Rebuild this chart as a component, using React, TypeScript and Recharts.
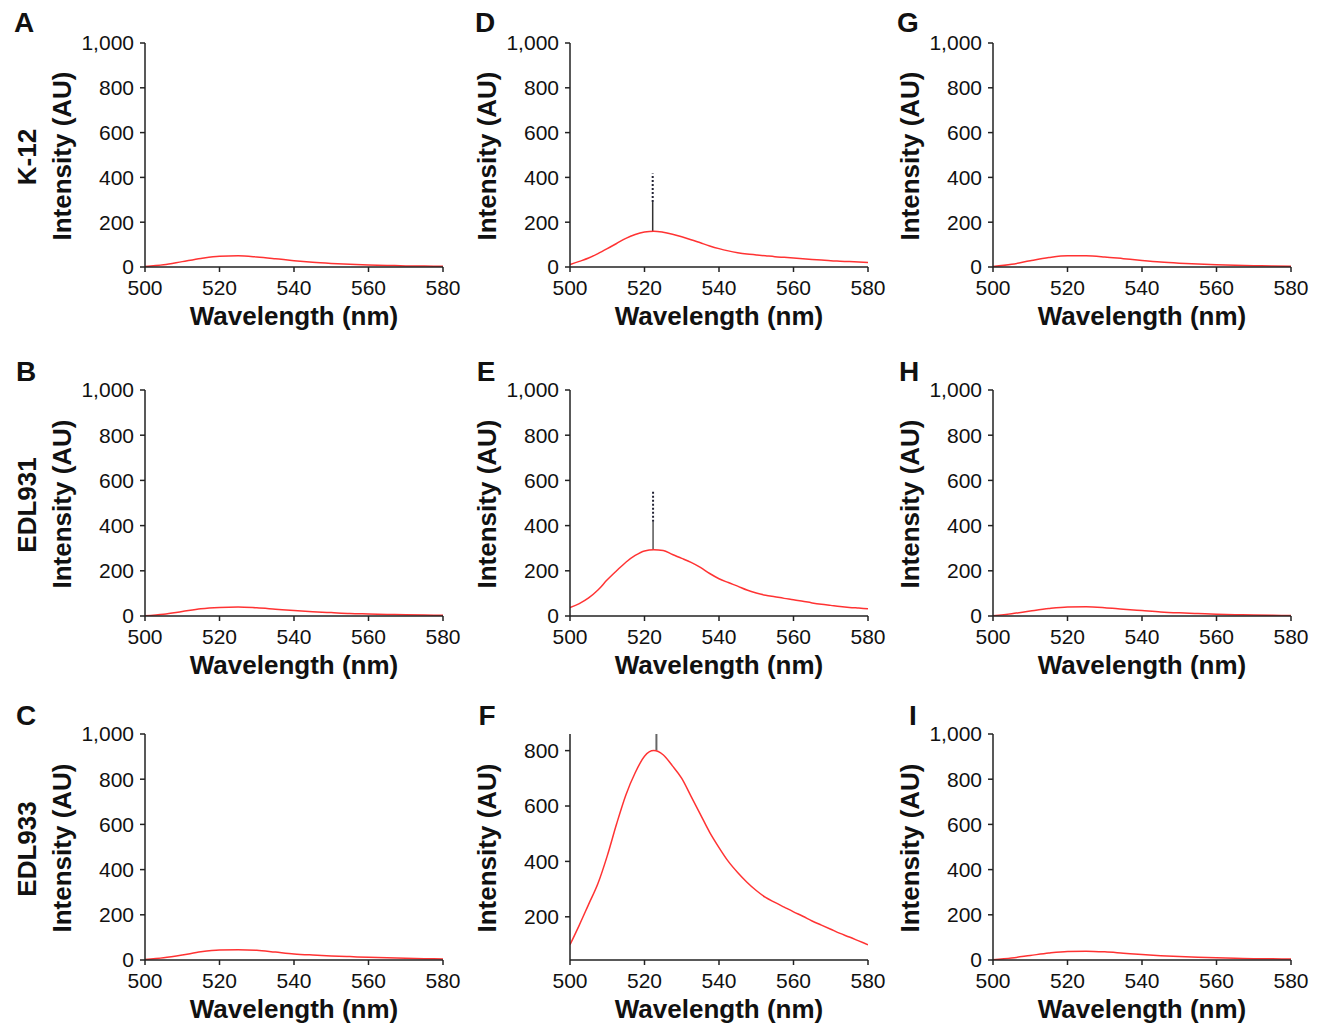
import React from 'react'
import { LineChart, Line, XAxis, YAxis } from 'recharts'

// wavelength grids (nm)
const wavelengths = [500, 505, 510, 515, 520, 525, 530, 535, 540, 545, 550, 555, 560, 565, 570, 575, 580]
const wavelengthsFine = [
  500, 502.5, 505, 507.5, 510, 512.5, 515, 517.5, 520, 522.5, 525, 527.5, 530, 532.5, 535, 537.5, 540,
  542.5, 545, 547.5, 550, 552.5, 555, 557.5, 560, 562.5, 565, 567.5, 570, 572.5, 575, 577.5, 580,
]

// intensities (AU), coarse panels
const intensityA = [2, 10, 24, 38, 48, 50, 45, 37, 28, 21, 16, 12, 9, 7, 5, 4, 3]
const intensityB = [1, 8, 20, 32, 38, 40, 36, 30, 24, 19, 15, 11, 9, 7, 5, 4, 3]
const intensityC = [2, 10, 22, 36, 44, 45, 43, 35, 27, 22, 18, 15, 12, 10, 8, 6, 4]
const intensityG = [2, 12, 28, 42, 50, 50, 45, 37, 29, 22, 17, 13, 10, 8, 6, 4, 3]
const intensityH = [1, 10, 22, 33, 40, 41, 37, 30, 24, 18, 14, 11, 8, 6, 4, 3, 2]
const intensityI = [1, 9, 20, 31, 38, 39, 36, 30, 24, 19, 15, 12, 10, 8, 6, 5, 4]

// intensities (AU), fine panels
const intensityD = [
  11, 25, 40, 60, 82, 105, 128, 145, 156, 160, 155, 146, 135, 122, 108, 94, 82,
  72, 64, 58, 54, 50, 46, 43, 40, 37, 34, 31, 28, 26, 24, 22, 20,
]
const intensityE = [
  37, 55, 80, 115, 160, 200, 238, 268, 288, 293, 290, 272, 255, 237, 215, 188, 165,
  148, 132, 115, 102, 92, 85, 78, 72, 65, 58, 52, 47, 42, 38, 35, 32,
]
const intensityF = [
  99, 170, 245, 320, 420, 535, 640, 720, 780, 800, 785, 745, 700, 635, 570, 505, 450,
  400, 360, 325, 295, 270, 252, 235, 218, 202, 185, 170, 155, 140, 127, 113, 99,
]

// vertical artefact spikes at the peak: [wavelength, from, to]
const spikeD = [522.2, 160, 290]
const spikeDDotted = [522.2, 290, 417]
const spikeE = [522.3, 293, 417]
const spikeEDotted = [522.3, 417, 557]
const spikeF = [523.2, 800, 860]

const xTicks = [500, 520, 540, 560, 580]
const yTicks = [0, 200, 400, 600, 800, 1000]
const yTicksF = [200, 400, 600, 800]

const FONT = '"Liberation Sans", Arial, Helvetica, sans-serif'
const PLOT_W = 298
const Y_AXIS_W = 100

const toPoints = (xs: number[], ys: number[]) => xs.map((w, i) => ({ w, v: ys[i] }))
const toSpike = (s: number[]) => [
  { w: s[0], v: s[1] },
  { w: s[0], v: s[2] },
]

type Spike = { pts: number[]; dashed?: boolean; color: string; width: number }

interface PanelProps {
  points: { w: number; v: number }[]
  plotLeft: number
  plotTop: number
  plotH: number
  domain?: [number, number]
  ticks?: number[]
  spikes?: Spike[]
}

function Panel({ points, plotLeft, plotTop, plotH, domain = [0, 1000], ticks = yTicks, spikes = [] }: PanelProps) {
  const tickStyle = { fontSize: 21, fill: '#111', fontFamily: FONT }
  return (
    <div style={{ position: 'absolute', left: plotLeft - Y_AXIS_W, top: plotTop - 12 }}>
      <LineChart
        width={Y_AXIS_W + PLOT_W + 30}
        height={plotH + 12 + 50}
        margin={{ top: 12, right: 30, bottom: 0, left: 0 }}
      >
        <XAxis
          type="number"
          dataKey="w"
          domain={[500, 580]}
          ticks={xTicks}
          interval={0}
          allowDataOverflow
          tickSize={5}
          tickMargin={8}
          height={50}
          tick={tickStyle}
          axisLine={{ stroke: '#222', strokeWidth: 1.5 }}
          tickLine={{ stroke: '#222', strokeWidth: 1.5 }}
        />
        <YAxis
          type="number"
          dataKey="v"
          domain={domain}
          ticks={ticks}
          interval={0}
          allowDataOverflow
          width={Y_AXIS_W}
          tickSize={5}
          tickMargin={6}
          tick={tickStyle}
          tickFormatter={(t: number) => t.toLocaleString('en-US')}
          axisLine={{ stroke: '#222', strokeWidth: 1.5 }}
          tickLine={{ stroke: '#222', strokeWidth: 1.5 }}
        />
        {spikes.map((s, i) => (
          <Line
            key={i}
            data={toSpike(s.pts)}
            dataKey="v"
            stroke={s.color}
            strokeWidth={s.width}
            strokeDasharray={s.dashed ? '2 2' : undefined}
            dot={false}
            isAnimationActive={false}
          />
        ))}
        <Line
          data={points}
          dataKey="v"
          type="monotone"
          stroke="#ff3333"
          strokeWidth={1.5}
          dot={false}
          isAnimationActive={false}
        />
      </LineChart>
    </div>
  )
}

const colLeft = [145, 570, 993]
const rowTop = [43, 390, 734]
const rowH = [224, 226, 226]

const Abs = ({ x, y, size, rotate, children }: { x: number; y: number; size: number; rotate?: boolean; children: React.ReactNode }) => (
  <div
    style={{
      position: 'absolute',
      left: x,
      top: y,
      transform: `translate(-50%, -50%)${rotate ? ' rotate(-90deg)' : ''}`,
      fontFamily: FONT,
      fontWeight: 'bold',
      fontSize: size,
      whiteSpace: 'nowrap',
      color: '#111',
      lineHeight: 1,
    }}
  >
    {children}
  </div>
)

export default function App() {
  const panels: { key: string; col: number; row: number; props: Partial<PanelProps> & { points: PanelProps['points'] } }[] = [
    { key: 'A', col: 0, row: 0, props: { points: toPoints(wavelengths, intensityA) } },
    { key: 'B', col: 0, row: 1, props: { points: toPoints(wavelengths, intensityB) } },
    { key: 'C', col: 0, row: 2, props: { points: toPoints(wavelengths, intensityC) } },
    {
      key: 'D', col: 1, row: 0,
      props: {
        points: toPoints(wavelengthsFine, intensityD),
        spikes: [
          { pts: spikeD, color: '#333', width: 1.5 },
          { pts: spikeDDotted, color: '#223', width: 2, dashed: true },
        ],
      },
    },
    {
      key: 'E', col: 1, row: 1,
      props: {
        points: toPoints(wavelengthsFine, intensityE),
        spikes: [
          { pts: spikeE, color: '#555', width: 1.5 },
          { pts: spikeEDotted, color: '#223', width: 2, dashed: true },
        ],
      },
    },
    {
      key: 'F', col: 1, row: 2,
      props: {
        points: toPoints(wavelengthsFine, intensityF),
        domain: [44, 860],
        ticks: yTicksF,
        spikes: [{ pts: spikeF, color: '#666', width: 2 }],
      },
    },
    { key: 'G', col: 2, row: 0, props: { points: toPoints(wavelengths, intensityG) } },
    { key: 'H', col: 2, row: 1, props: { points: toPoints(wavelengths, intensityH) } },
    { key: 'I', col: 2, row: 2, props: { points: toPoints(wavelengths, intensityI) } },
  ]

  const rowLabels = ['K-12', 'EDL931', 'EDL933']
  const letterPos: Record<string, [number, number]> = {
    A: [24, 23], D: [485, 23], G: [908, 23],
    B: [26, 372], E: [486, 372], H: [909, 372],
    C: [26, 716], F: [487, 716], I: [913, 716],
  }

  return (
    <div style={{ position: 'absolute', left: 0, top: 0, width: 1322, height: 1023, background: '#fff' }}>
      {panels.map((p) => (
        <Panel
          key={p.key}
          plotLeft={colLeft[p.col]}
          plotTop={rowTop[p.row]}
          plotH={rowH[p.row]}
          {...p.props}
        />
      ))}
      {panels.map((p) => (
        <React.Fragment key={'t' + p.key}>
          <Abs x={letterPos[p.key][0]} y={letterPos[p.key][1]} size={28}>{p.key}</Abs>
          <Abs x={colLeft[p.col] - 83} y={rowTop[p.row] + rowH[p.row] / 2 + 1} size={26} rotate>
            Intensity (AU)
          </Abs>
          <Abs x={colLeft[p.col] + PLOT_W / 2} y={rowTop[p.row] + rowH[p.row] + 49} size={26}>
            Wavelength (nm)
          </Abs>
        </React.Fragment>
      ))}
      {rowLabels.map((r, i) => (
        <Abs key={r} x={27} y={rowTop[i] + rowH[i] / 2 + 2} size={26} rotate>
          {r}
        </Abs>
      ))}
    </div>
  )
}
